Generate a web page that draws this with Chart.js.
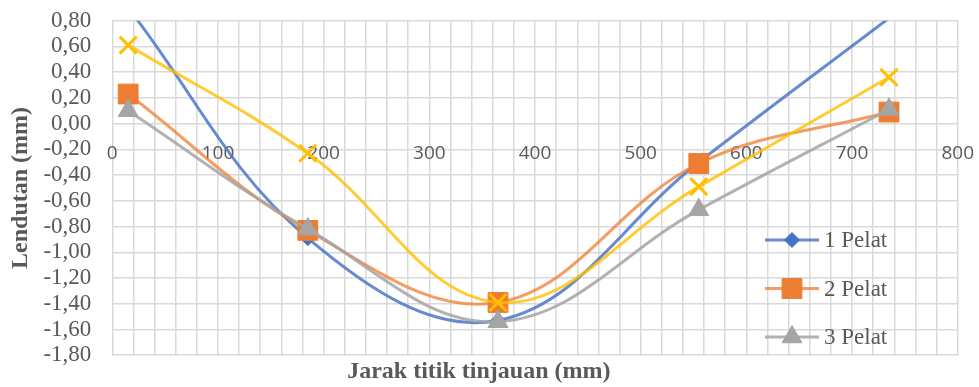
<!DOCTYPE html>
<html><head><meta charset="utf-8">
<script src="https://cdn.jsdelivr.net/npm/chart.js@4/dist/chart.umd.min.js"></script>
<style>html,body{margin:0;padding:0;background:#fff}#wrap{width:979px;height:387px}</style>
</head><body><div id="wrap"><canvas id="c" width="979" height="387"></canvas></div>
<script>
// ---- data ----
const jarak  = [15, 185, 365, 555, 735];
const pelat1 = [0.90, -0.89, -1.53, -0.30, 0.82];
const pelat2 = [0.23, -0.83, -1.39, -0.31, 0.09];
const pelat3 = [0.10, -0.82, -1.54, -0.67, 0.11];
const pelat4 = [0.61, -0.23, -1.39, -0.49, 0.36];
const seriesNames = ['1 Pelat', '2 Pelat', '3 Pelat', '4 Pelat'];
const legendSeries = [0, 1, 2];
const xTitle = 'Jarak titik tinjauan (mm)';
const yTitle = 'Lendutan (mm)';
const X_MIN = 0, X_MAX = 800, X_STEP = 20, X_LABEL_STEP = 100;
const Y_MIN = -1.8, Y_MAX = 0.8, Y_STEP = 0.2;

// ---- styles ----
const styles = [
  {line: 'rgba(68,114,196,0.82)',  fill: '#4472C4', pointStyle: 'rectRot',  r: 7.5,  bw: 1},
  {line: 'rgba(237,125,49,0.75)',  fill: '#ED7D31', pointStyle: 'rect',     r: 14,   bw: 1},
  {line: 'rgba(165,165,165,0.85)', fill: '#A5A5A5', pointStyle: 'triangle', r: 11.5, bw: 1},
  {line: 'rgba(255,192,0,0.8)',    fill: '#FFC000', pointStyle: 'crossRot', r: 12,   bw: 3}
];
const seriesValues = [pelat1, pelat2, pelat3, pelat4];

const datasets = seriesValues.map((vals, i) => {
  const s = styles[i];
  return {
    label: seriesNames[i],
    data: jarak.map((x, k) => ({x: x, y: vals[k]})),
    borderColor: s.line,
    borderWidth: 3,
    backgroundColor: s.fill,
    pointStyle: s.pointStyle,
    pointBackgroundColor: s.fill,
    pointBorderColor: s.fill,
    pointBorderWidth: s.bw,
    pointRadius: ctx => {
      const v = ctx.raw && ctx.raw.y;
      return (v > Y_MAX || v < Y_MIN) ? 0 : s.r;
    },
    pointHoverRadius: s.r,
    tension: 0.38,
    fill: false,
    order: 4 - i
  };
});

function drawMarker(ctx, style, x, y, r) {
  ctx.beginPath();
  if (style === 'rectRot') {
    ctx.moveTo(x, y - r); ctx.lineTo(x + r, y); ctx.lineTo(x, y + r); ctx.lineTo(x - r, y); ctx.closePath();
    ctx.fill(); ctx.stroke();
  } else if (style === 'rect') {
    const h = r * Math.SQRT1_2;
    ctx.rect(x - h, y - h, 2 * h, 2 * h); ctx.fill(); ctx.stroke();
  } else if (style === 'triangle') {
    ctx.moveTo(x, y - r);
    ctx.lineTo(x + Math.sin(2 * Math.PI / 3) * r, y - Math.cos(2 * Math.PI / 3) * r);
    ctx.lineTo(x + Math.sin(4 * Math.PI / 3) * r, y - Math.cos(4 * Math.PI / 3) * r);
    ctx.closePath(); ctx.fill(); ctx.stroke();
  } else {
    const o = r * Math.SQRT1_2;
    ctx.moveTo(x - o, y - o); ctx.lineTo(x + o, y + o);
    ctx.moveTo(x + o, y - o); ctx.lineTo(x - o, y + o); ctx.stroke();
  }
}

const sideLegend = {
  id: 'sideLegend',
  afterDatasetsDraw(chart) {
    const {ctx, chartArea} = chart;
    legendSeries.forEach((di, k) => {
      const s = styles[di];
      const y = chartArea.top + 219.3 + k * 48.5;
      const x0 = chartArea.right - 192.7, x1 = chartArea.right - 138.7;
      ctx.save();
      ctx.strokeStyle = s.line; ctx.lineWidth = 3;
      ctx.beginPath(); ctx.moveTo(x0, y); ctx.lineTo(x1, y); ctx.stroke();
      ctx.fillStyle = s.fill; ctx.strokeStyle = s.fill; ctx.lineWidth = s.bw;
      drawMarker(ctx, s.pointStyle, (x0 + x1) / 2, y, s.r);
      ctx.fillStyle = '#595959';
      ctx.font = '23px "Liberation Serif"';
      ctx.textAlign = 'left'; ctx.textBaseline = 'middle';
      ctx.fillText(seriesNames[di], chartArea.right - 133.7, y + 1);
      ctx.restore();
    });
  }
};

const fmtY = v => (Math.abs(v) < 1e-9 ? 0 : v).toFixed(2).replace('.', ',');

new Chart(document.getElementById('c'), {
  type: 'line',
  data: {datasets: datasets},
  options: {
    responsive: false,
    animation: false,
    devicePixelRatio: 1,
    layout: {padding: {left: 0, right: 21.3, top: 20.7, bottom: 0}},
    plugins: {
      legend: {display: false},
      tooltip: {enabled: false},
      title: {
        display: true, position: 'bottom', text: xTitle, color: '#595959',
        font: {family: 'Liberation Serif', size: 24, weight: 'bold'},
        padding: {top: 2, bottom: 1}
      }
    },
    scales: {
      x: {
        type: 'linear', min: X_MIN, max: X_MAX, position: {y: 0},
        ticks: {
          stepSize: X_STEP, autoSkip: false, maxRotation: 0, padding: 2,
          color: '#595959', font: {family: 'Open Sans', size: 19},
          callback: v => (Math.round(v) % X_LABEL_STEP === 0 ? String(Math.round(v)) : '')
        },
        grid: {color: '#D9D9D9', lineWidth: 1.5, drawTicks: true, tickLength: 17, tickColor: 'rgba(0,0,0,0)'},
        border: {display: false}
      },
      y: {
        type: 'linear', min: Y_MIN, max: Y_MAX,
        ticks: {
          stepSize: Y_STEP, autoSkip: false, padding: 4, color: '#595959',
          font: {family: 'Liberation Serif', size: 23},
          callback: v => fmtY(v)
        },
        grid: {color: '#D9D9D9', lineWidth: 1.5, drawTicks: true, tickLength: 17, tickColor: 'rgba(0,0,0,0)'},
        border: {display: false},
        title: {
          display: true, text: yTitle, color: '#595959',
          font: {family: 'Liberation Serif', size: 24, weight: 'bold'},
          padding: {top: 6, bottom: 0}
        },
        afterFit(s) { s.width = 112.3; }
      }
    }
  },
  plugins: [sideLegend]
});
</script>
</body></html>
